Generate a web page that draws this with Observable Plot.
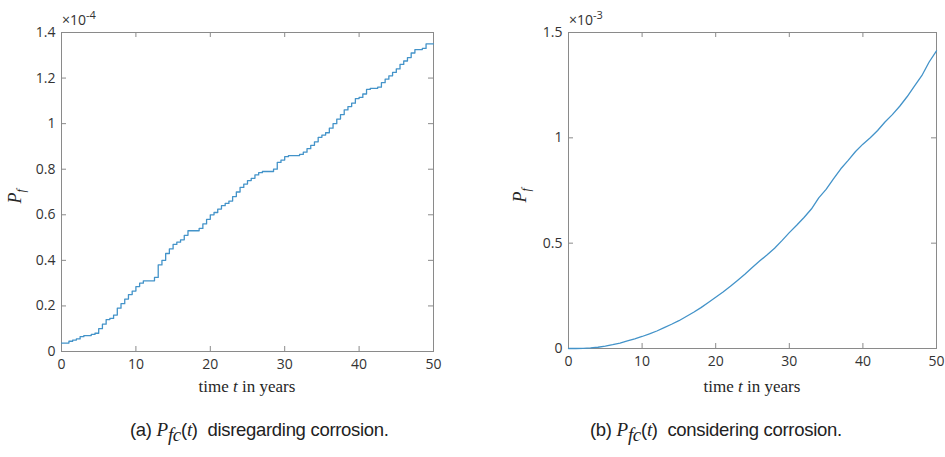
<!DOCTYPE html>
<html><head><meta charset="utf-8">
<script src="https://cdn.jsdelivr.net/npm/d3@7"></script>
<script src="https://cdn.jsdelivr.net/npm/@observablehq/plot@0.6"></script>
<style>
body{margin:0;background:#fff;}
#wrap{position:relative;width:945px;height:457px;overflow:hidden;font-family:"Open Sans",sans-serif;color:#262626;}
.panel{position:absolute;top:0;}
.exp{position:absolute;top:7px;font-size:14px;color:#333;font-family:"Open Sans",sans-serif;}
.exp sup{font-size:11px;}
.xlab{position:absolute;top:377px;text-align:center;font-family:"Liberation Serif","DejaVu Serif",serif;font-size:17px;color:#262626;}
.ylab{position:absolute;font-family:"Liberation Serif","DejaVu Serif",serif;font-style:italic;font-size:18px;transform:rotate(-90deg);transform-origin:center;color:#262626;white-space:nowrap;}
.ylab sub{font-size:12px;}
.cap{position:absolute;top:419px;font-family:"Liberation Sans",sans-serif;font-size:18.5px;color:#222;white-space:nowrap;letter-spacing:-0.3px;}
.cap i{font-family:"Liberation Serif",serif;font-size:19px;}
.cap sub{font-size:13px;}
</style>
</head><body>
<div id="wrap"></div>
<script>
// ---- data ----
const timeA = d3.range(0, 50.5, 0.5);
// P_f (x 1e-4), disregarding corrosion
const pfA = [0.037,0.037,0.045,0.05,0.055,0.065,0.07,0.07,0.075,0.08,
0.10,0.12,0.14,0.145,0.16,0.19,0.21,0.23,0.25,0.265,
0.285,0.30,0.31,0.31,0.31,0.325,0.38,0.40,0.43,0.45,
0.47,0.48,0.49,0.51,0.53,0.53,0.53,0.54,0.56,0.58,
0.60,0.61,0.625,0.64,0.65,0.66,0.68,0.70,0.72,0.735,
0.75,0.76,0.775,0.785,0.79,0.79,0.79,0.80,0.83,0.84,
0.855,0.86,0.86,0.86,0.865,0.875,0.89,0.905,0.92,0.94,
0.95,0.96,0.98,1.00,1.02,1.04,1.06,1.075,1.09,1.11,
1.115,1.13,1.15,1.155,1.155,1.16,1.18,1.195,1.21,1.225,
1.24,1.26,1.275,1.29,1.31,1.325,1.325,1.33,1.35,1.35,1.35];
const timeB = d3.range(0, 51, 1);
// P_f (x 1e-3), considering corrosion
const pfB = [0.000,0.000,0.001,0.003,0.006,0.011,0.018,0.026,0.036,0.046,
0.057,0.069,0.083,0.099,0.115,0.132,0.152,0.172,0.194,0.218,
0.243,0.268,0.295,0.324,0.354,0.386,0.416,0.445,0.476,0.512,
0.550,0.585,0.622,0.662,0.715,0.755,0.805,0.853,0.893,0.935,
0.970,1.000,1.035,1.075,1.110,1.150,1.195,1.245,1.295,1.360,1.413];
const xTicks = [0,10,20,30,40,50];
const yTicksA = [0,0.2,0.4,0.6,0.8,1,1.2,1.4];
const yTicksB = [0,0.5,1,1.5];
const expA = "-4", expB = "-3";
const xLabel = ["time ", "t", " in years"];
const capA = ["(a) ", "  disregarding corrosion."];
const capB = ["(b) ", "  considering corrosion."];

const wrap = document.getElementById("wrap");
const axisColor = "#8a8a8a";
const lineColor = "#4393c9";
const tickFont = 14;

function panel(o){
  const data = o.t.map((t,i)=>({t, p:o.p[i]}));
  const iw = o.width - o.ml - o.mr, ih = o.height - o.mt - o.mb;
  const chart = Plot.plot({
    width:o.width, height:o.height,
    marginLeft:o.ml, marginRight:o.mr, marginTop:o.mt, marginBottom:o.mb,
    style:{fontFamily:"'Open Sans',sans-serif", fontSize:"14px", color:"#333", background:"transparent", overflow:"visible"},
    x:{domain:[0,50]},
    y:{domain:o.yDomain},
    marks:[
      Plot.frame({stroke:axisColor}),
      Plot.tickX(xTicks,{x:d=>d, stroke:axisColor, insetTop:ih-5}),
      Plot.tickX(xTicks,{x:d=>d, stroke:axisColor, insetBottom:ih-5}),
      Plot.tickY(o.yTicks,{y:d=>d, stroke:axisColor, insetRight:iw-5}),
      Plot.tickY(o.yTicks,{y:d=>d, stroke:axisColor, insetLeft:iw-5}),
      Plot.axisX({ticks:xTicks, tickSize:0, tickPadding:8, label:null, fontSize:tickFont, tickFormat:d3.format("~g")}),
      Plot.axisY({ticks:o.yTicks, tickSize:0, tickPadding:6, label:null, fontSize:tickFont, tickFormat:d3.format("~g")}),
      Plot.line(data,{x:"t", y:"p", curve:o.curve, stroke:lineColor, strokeWidth:1.3})
    ]
  });
  const div = document.createElement("div");
  div.className = "panel";
  div.style.left = o.left + "px";
  div.appendChild(chart);
  wrap.appendChild(div);

  const ex = document.createElement("div");
  ex.className = "exp";
  ex.style.left = (o.left + o.ml + 1) + "px";
  ex.innerHTML = "&times;10<sup>" + o.exp + "</sup>";
  wrap.appendChild(ex);

  const xl = document.createElement("div");
  xl.className = "xlab";
  xl.style.left = (o.left + o.ml) + "px";
  xl.style.width = iw + "px";
  xl.innerHTML = xLabel[0] + "<i>" + xLabel[1] + "</i>" + xLabel[2];
  wrap.appendChild(xl);

  const yl = document.createElement("div");
  yl.className = "ylab";
  yl.innerHTML = "P<sub>f</sub>";
  wrap.appendChild(yl);
  const r = yl.getBoundingClientRect();
  yl.style.left = (o.ylx - r.width/2) + "px";
  yl.style.top = (o.mt + ih/2 - r.height/2) + "px";

  const cp = document.createElement("div");
  cp.className = "cap";
  cp.style.left = o.capx + "px";
  cp.innerHTML = o.cap[0] + "<i>P</i><sub><i>fc</i></sub>(<i>t</i>)" + o.cap[1].replace(/  /, "&nbsp; ");
  wrap.appendChild(cp);
}

panel({left:0, width:450, height:400, ml:61, mr:17, mt:32, mb:49,
  t:timeA, p:pfA, yDomain:[0,1.4], yTicks:yTicksA, exp:expA, curve:"step-after",
  ylx:22, cap:capA, capx:130});
panel({left:500, width:445, height:400, ml:68, mr:9, mt:32, mb:52,
  t:timeB, p:pfB, yDomain:[0,1.5], yTicks:yTicksB, exp:expB, curve:"linear",
  ylx:527, cap:capB, capx:590});
</script>
</body></html>
